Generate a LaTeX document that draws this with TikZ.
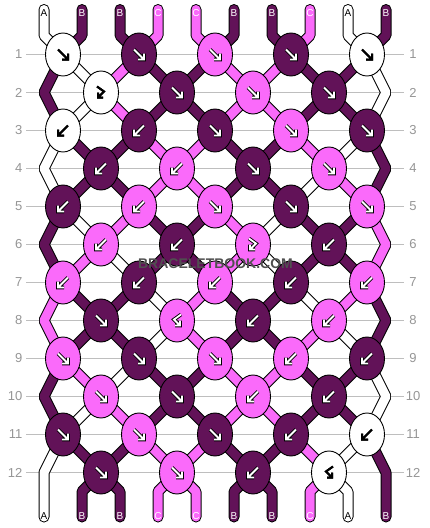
\documentclass[tikz,border=0pt]{standalone}
\usepackage{fontspec}
\setmainfont{Liberation Sans}
\usetikzlibrary{shapes.geometric}
\definecolor{cW}{RGB}{255,255,255}
\definecolor{cD}{RGB}{98,18,88}
\definecolor{cP}{RGB}{250,106,250}
\definecolor{gridc}{RGB}{190,190,190}
\definecolor{numc}{RGB}{150,150,150}
\definecolor{wmc}{RGB}{80,80,80}
\pgfdeclarelayer{gridl}\pgfdeclarelayer{strout}\pgfdeclarelayer{strin}
\pgfsetlayers{gridl,strout,strin,main}
\begin{document}
\begin{tikzpicture}[x=1pt,y=-1pt,
  knot/.style={ellipse,draw=black,line width=0.9pt,minimum width=35pt,minimum height=43pt,inner sep=0pt},
  bandout/.style={line width=11pt,draw=black,line join=bevel,line cap=round},
  bandin/.style={line width=9pt,line join=bevel,line cap=round},
  arroutW/.style={draw=black,line width=2pt},
  arrinW/.style={draw=black,line width=2pt},
  arroutD/.style={draw=black,line width=3.6pt,line cap=square},
  arrinD/.style={draw=white,line width=1.8pt},
  arroutP/.style={draw=black,line width=3.6pt,line cap=square},
  arrinP/.style={draw=white,line width=1.8pt},
  gf/.pic={\draw[pic actions] (-5,-5)--(5,5) (-1,5)--(5,5)--(5,-1);},
  gb/.pic={\draw[pic actions] (5,-5)--(-5,5) (1,5)--(-5,5)--(-5,-1);},
  gfb/.pic={\draw[pic actions] (-4,-6)--(3,-1)--(-3,5) (-3,0)--(-3,5)--(2,5);},
  gbf/.pic={\draw[pic actions] (4,-6)--(-3,-1)--(3,5) (3,0)--(3,5)--(-2,5);},
  gridline/.style={draw=gridc,line width=0.8pt},
  rownum/.style={text=numc,font=\fontsize{13}{13}\selectfont,inner sep=0pt},
  endlab/.style={font=\fontsize{10}{10}\selectfont,inner sep=0pt},
  labW/.style={text=black}, labD/.style={text=white}, labP/.style={text=white}
]
\useasboundingbox (0,0) rectangle (430,528);
\begin{pgfonlayer}{gridl}
\fill[white] (0,0) rectangle (430,528);
\foreach \rr in {1,...,12}{
  \pgfmathsetmacro\yy{54.5+38*(\rr-1)}
  \draw[gridline] (26,\yy) -- (404,\yy);
  \node[rownum,anchor=east] (nl\rr) at (22.5,\yy) {\rr};
  \node[rownum] (nr\rr) at (413,\yy) {\rr};
}
\end{pgfonlayer}
% knots
\foreach \rr/\row in {
  1/{W/f,D/f,P/f,D/f,W/f},
  2/{W/fb,D/f,P/f,D/f},
  3/{W/b,D/b,D/f,P/f,D/f},
  4/{D/b,P/b,D/f,P/f},
  5/{D/b,P/b,P/f,D/f,P/f},
  6/{P/b,D/b,P/fb,D/b},
  7/{P/b,D/b,P/b,D/b,P/b},
  8/{D/f,P/bf,D/b,P/b},
  9/{P/f,D/f,P/f,P/b,D/b},
  10/{P/f,D/f,P/b,D/b},
  11/{D/f,P/f,D/f,D/b,W/b},
  12/{D/f,P/f,D/b,W/bf}}{
  \pgfmathsetmacro\yy{54.5+38*(\rr-1)}
  \pgfmathtruncatemacro\odd{mod(\rr,2)}
  \foreach \kc/\ty [count=\kk] in \row {
    \pgfmathsetmacro\xx{\odd==1 ? 63+76*(\kk-1) : 101+76*(\kk-1)}
    \pgfmathtruncatemacro\ia{\odd==1 ? 2*\kk-1 : 2*\kk}
    \pgfmathtruncatemacro\ib{\ia+1}
    \node[knot,fill=c\kc] (k\rr-\kk) at (\xx,\yy) {};
    \coordinate (p\rr-\ia) at (k\rr-\kk.center);
    \coordinate (p\rr-\ib) at (k\rr-\kk.center);
    \pic[arrout\kc] at (k\rr-\kk.center) {g\ty};
    \pic[arrin\kc] at (k\rr-\kk.center) {g\ty};
  }
  \ifnum\odd=0
    \coordinate (p\rr-1) at (44,\yy);
    \coordinate (p\rr-10) at (386,\yy);
  \fi
}
% strings
\foreach \sn/\sc/\lt/\pl/\bp/\lb in {
  1/W/A/{1,2,2,1,1,2,3,4,4,3,2,1}/1/A,
  2/D/B/{2,1,1,2,3,4,5,6,7,8,9,10}/10/B,
  3/D/B/{3,4,5,6,7,8,9,10,10,9,8,7}/6/B,
  4/P/C/{4,3,3,4,5,6,6,5,5,6,7,8}/8/C,
  5/P/C/{5,6,7,8,9,10,10,9,8,7,6,5}/4/C,
  6/D/B/{6,5,4,3,2,1,1,2,3,4,5,6}/7/B,
  7/D/B/{7,8,9,10,10,9,8,7,6,5,4,3}/2/B,
  8/P/C/{8,7,6,5,4,3,2,1,1,2,3,4}/5/C,
  9/W/A/{9,10,10,9,8,7,7,8,9,10,10,9}/9/A,
  10/D/B/{10,9,8,7,6,5,4,3,2,1,1,2}/3/B}{
  \pgfmathsetmacro\xt{44+38*(\sn-1)}
  \pgfmathsetmacro\xb{44+38*(\bp-1)}
  \coordinate (top\sn) at (\xt,9.5);
  \coordinate (tb\sn) at (\xt,35.5);
  \coordinate (bb\sn) at (\xb,491.5);
  \coordinate (bot\sn) at (\xb,517);
  \begin{pgfonlayer}{strout}
  \draw[bandout] (top\sn) -- (tb\sn) \foreach \ii [count=\rr] in \pl {-- (p\rr-\ii)} -- (bb\sn) -- (bot\sn);
  \end{pgfonlayer}
  \begin{pgfonlayer}{strin}
  \draw[bandin,draw=c\sc] (top\sn) -- (tb\sn) \foreach \ii [count=\rr] in \pl {-- (p\rr-\ii)} -- (bb\sn) -- (bot\sn);
  \end{pgfonlayer}
  \node[endlab,lab\sc] (tl\sn) at (\xt,13) {\lt};
  \node[endlab,lab\sc] (bl\sn) at (\xb,516.5) {\lb};
}
\node[font=\bfseries\fontsize{14}{14}\selectfont,text=wmc,inner sep=0pt] (wm) at (215.5,263.5) {BRACELETBOOK.COM};
\end{tikzpicture}
\end{document}
